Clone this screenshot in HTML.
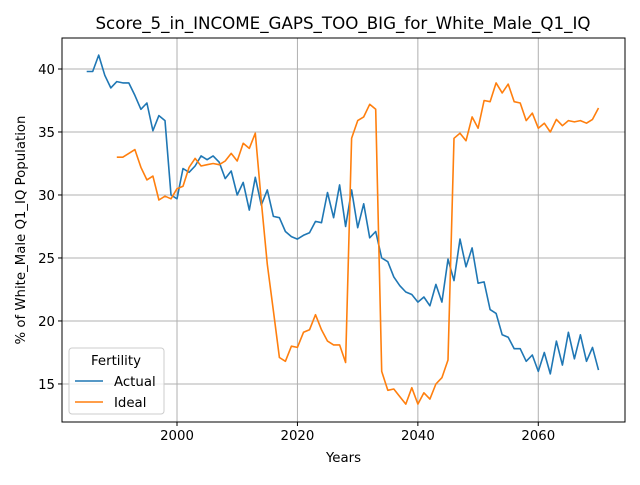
<!DOCTYPE html>
<html><head><meta charset="utf-8"><style>
body{margin:0;background:#fff;font-family:"Liberation Sans","DejaVu Sans",sans-serif;}
svg text{font-family:"DejaVu Sans","Liberation Sans",sans-serif;}
</style></head><body>
<svg id="chart" width="640" height="480"></svg>
<script>
const actualStart = 1985;
const actualValues = [39.8,39.8,41.1,39.5,38.5,39.0,38.9,38.9,37.9,36.8,37.3,35.1,36.3,35.9,30.0,29.7,32.1,31.8,32.3,33.1,32.8,33.1,32.6,31.3,31.9,30.0,31.0,28.8,31.4,29.2,30.4,28.3,28.2,27.1,26.7,26.5,26.8,27.0,27.9,27.8,30.2,28.2,30.8,27.5,30.4,27.4,29.3,26.6,27.1,25.0,24.7,23.5,22.8,22.3,22.1,21.5,21.9,21.2,22.9,21.5,24.9,23.2,26.5,24.3,25.8,23.0,23.1,20.9,20.6,18.9,18.7,17.8,17.8,16.8,17.3,16.0,17.5,15.8,18.4,16.5,19.1,17.0,18.9,16.8,17.9,16.1];
const idealStart = 1990;
const idealValues = [33.0,33.0,33.3,33.6,32.2,31.2,31.5,29.6,29.9,29.7,30.5,30.7,32.2,32.9,32.3,32.4,32.5,32.4,32.7,33.3,32.7,34.1,33.7,34.9,29.5,24.5,20.8,17.1,16.8,18.0,17.9,19.1,19.3,20.5,19.3,18.4,18.1,18.1,16.7,34.5,35.9,36.2,37.2,36.8,16.0,14.5,14.6,14.0,13.4,14.7,13.4,14.3,13.8,15.0,15.5,16.9,34.5,34.9,34.3,36.2,35.3,37.5,37.4,38.9,38.1,38.8,37.4,37.3,35.9,36.5,35.3,35.7,35.0,36.0,35.5,35.9,35.8,35.9,35.7,36.0,36.9];
const xTicks = [2000,2020,2040,2060];
const yTicks = [15,20,25,30,35,40];

const L=62,R=625,T=38,B=422;
const xMin=1980.9,xMax=2074.4,yMin=11.98,yMax=42.46;
const xs=v=>L+(v-xMin)/(xMax-xMin)*(R-L);
const ys=v=>B-(v-yMin)/(yMax-yMin)*(B-T);
const NS="http://www.w3.org/2000/svg";
const svg=document.getElementById('chart');
function mk(tag,attrs,parent){const e=document.createElementNS(NS,tag);for(const k in attrs)e.setAttribute(k,attrs[k]);(parent||svg).appendChild(e);return e;}

const title=mk('text',{x:343,y:29,'text-anchor':'middle','font-size':16.7,fill:'#000'});


title.textContent='Score_5_in_INCOME_GAPS_TOO_BIG_for_White_Male_Q1_IQ';

const grid=mk('g',{});


xTicks.forEach(t=>{
  mk('line',{x1:xs(t),x2:xs(t),y1:T,y2:B,stroke:'#b0b0b0','stroke-width':1},grid);
  mk('line',{x1:xs(t),x2:xs(t),y1:B,y2:B+4,stroke:'#000'});
  const tx=mk('text',{x:xs(t),y:B+18,'text-anchor':'middle','font-size':13.3});
  
  
  tx.textContent=t;
});
yTicks.forEach(t=>{
  mk('line',{x1:L,x2:R,y1:ys(t),y2:ys(t),stroke:'#b0b0b0','stroke-width':1},grid);
  mk('line',{x1:L-4,x2:L,y1:ys(t),y2:ys(t),stroke:'#000'});
  const tx=mk('text',{x:L-7,y:ys(t)+5,'text-anchor':'end','font-size':13.3});
  
  
  tx.textContent=t;
});

function series(start,vals,color,name){
  const p=vals.map((v,i)=>xs(start+i).toFixed(1)+','+ys(v).toFixed(1)).join(' ');
  const pl=mk('polyline',{points:p,fill:'none',stroke:color,'stroke-width':1.6,'stroke-linejoin':'round'});
  
  
}
series(actualStart,actualValues,'#1f77b4','actual-line');
series(idealStart,idealValues,'#ff7f0e','ideal-line');

const frame=mk('rect',{x:L,y:T,width:R-L,height:B-T,fill:'none',stroke:'#000','stroke-width':1});



const xl=mk('text',{x:(L+R)/2,y:462,'text-anchor':'middle','font-size':13.3});


xl.textContent='Years';
const yl=mk('text',{x:0,y:0,'text-anchor':'middle','font-size':13.3,transform:'translate(25,'+((T+B)/2)+') rotate(-90)'});


yl.textContent='% of White_Male Q1_IQ Population';

const lg=mk('g',{});


mk('rect',{x:69,y:348,width:95,height:66,rx:3,fill:'#fff','fill-opacity':0.8,stroke:'#ccc'},lg);
mk('text',{x:116,y:365,'text-anchor':'middle','font-size':13.3},lg).textContent='Fertility';
mk('line',{x1:75,x2:103,y1:381,y2:381,stroke:'#1f77b4','stroke-width':1.6},lg);
const la=mk('text',{x:114,y:386,'font-size':13.3},lg);


la.textContent='Actual';
mk('line',{x1:75,x2:103,y1:402,y2:402,stroke:'#ff7f0e','stroke-width':1.6},lg);
const li=mk('text',{x:114,y:407,'font-size':13.3},lg);


li.textContent='Ideal';
</script>
</body></html>
